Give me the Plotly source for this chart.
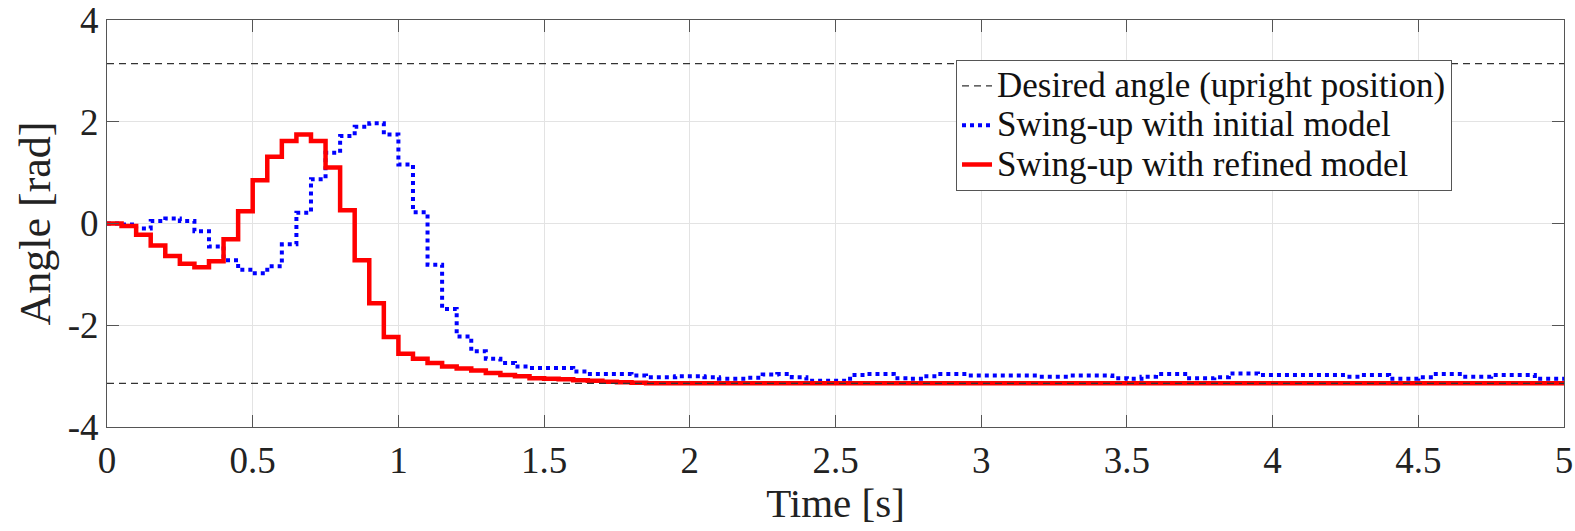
import numpy as np
import plotly.graph_objects as go

sample_time = 0.05  # s, zero-order hold

initial_model = [
    0.00, -0.02, -0.10, 0.05, 0.10, 0.05, -0.15, -0.45, -0.72, -0.91,
    -0.98, -0.84, -0.41, 0.21, 0.87, 1.39, 1.72, 1.90, 1.97, 1.75,
    1.16, 0.22, -0.81, -1.68, -2.22, -2.51, -2.66, -2.74, -2.81, -2.84,
    -2.84, -2.84, -2.91, -2.96, -2.96, -2.96, -2.99, -3.02, -3.02, -3.00,
    -3.00, -3.02, -3.05, -3.05, -3.03, -2.97, -2.96, -3.02, -3.09, -3.09,
    -3.09, -2.98, -2.96, -2.96, -3.04, -3.05, -3.00, -2.96, -2.96, -2.99,
    -2.99, -2.99, -2.99, -2.99, -3.01, -3.01, -2.99, -2.99, -2.99, -3.04,
    -3.05, -3.01, -2.96, -2.96, -3.04, -3.04, -3.02, -2.95, -2.95, -2.98,
    -2.98, -2.98, -2.98, -2.98, -2.98, -3.01, -2.98, -2.98, -3.05, -3.05,
    -3.02, -2.96, -2.96, -3.01, -3.01, -2.98, -2.98, -2.98, -3.05, -3.05,
]

refined_model = [
    0.00, -0.05, -0.22, -0.43, -0.64, -0.79, -0.86, -0.74, -0.31, 0.24,
    0.85, 1.31, 1.62, 1.75, 1.62, 1.10, 0.26, -0.72, -1.57, -2.23,
    -2.56, -2.66, -2.74, -2.81, -2.85, -2.89, -2.94, -2.98, -3.00, -3.04,
    -3.05, -3.06, -3.08, -3.09, -3.11, -3.12, -3.13,
] + [-3.14] * 63

desired_angle = [np.pi, -np.pi]
x_ticks = [0, 0.5, 1, 1.5, 2, 2.5, 3, 3.5, 4, 4.5, 5]
x_ticktext = ["0", "0.5", "1", "1.5", "2", "2.5", "3", "3.5", "4", "4.5", "5"]
y_ticks = [-4, -2, 0, 2, 4]
y_ticktext = ["-4", "-2", "0", "2", "4"]

series_names = [
    "Desired angle (upright position)",
    "Swing-up with initial model",
    "Swing-up with refined model",
]

n = len(initial_model)
t = [k * sample_time for k in range(n)] + [n * sample_time]
blue_y = initial_model + [initial_model[-1]]
red_y = refined_model + [refined_model[-1]]

FONT = "Liberation Serif"


def legend_label(s):
    return '<span style="font-size:35px">' + s + "</span>"


fig = go.Figure()
fig.add_trace(go.Scatter(
    x=t, y=blue_y, mode="lines", line_shape="hv",
    line=dict(color="#0000ff", width=4, dash="dot"),
    name=legend_label(series_names[1]), legendrank=2,
))
fig.add_trace(go.Scatter(
    x=t, y=red_y, mode="lines", line_shape="hv",
    line=dict(color="#ff0000", width=4.5),
    name=legend_label(series_names[2]), legendrank=3,
))
for i, a in enumerate(desired_angle):
    fig.add_trace(go.Scatter(
        x=[x_ticks[0], x_ticks[-1]], y=[a, a], mode="lines",
        line=dict(color="#333333", width=1.3, dash="7px,5px"),
        name=legend_label(series_names[0]), showlegend=(i == 0),
        legendrank=1,
    ))

axis_common = dict(
    showline=True, linecolor="#555555", linewidth=1.2, mirror="ticks",
    ticks="inside", ticklen=12, tickcolor="#555555", tickwidth=1.2,
    showgrid=True, gridcolor="#e3e3e3", gridwidth=1, zeroline=False,
    tickfont=dict(family=FONT, size=37, color="#222222"),
    automargin=False, ticklabeloverflow="allow",
)

fig.update_layout(
    width=1575, height=531,
    margin=dict(l=107, r=11, t=20, b=104),
    paper_bgcolor="white", plot_bgcolor="white",
    font=dict(family=FONT, color="#222222"),
    xaxis=dict(range=[0, 5], tickvals=x_ticks, ticktext=x_ticktext,
               title=dict(text="Time [s]", font=dict(family=FONT, size=41), standoff=2),
               **axis_common),
    yaxis=dict(range=[-4, 4], tickvals=y_ticks, ticktext=y_ticktext,
               title=dict(text="Angle [rad]", font=dict(family=FONT, size=44), standoff=3),
               **axis_common),
    legend=dict(
        x=0.923, y=0.902, xanchor="right", yanchor="top",
        bgcolor="white", bordercolor="#555555", borderwidth=1.2,
        font=dict(family=FONT, size=28, color="#111111"),
        tracegroupgap=0, itemwidth=30,
    ),
    showlegend=True,
)

fig.write_html(
    "out.html",
    config={"displayModeBar": False},
    post_script="document.body.style.margin='0px';document.body.style.overflow='hidden';",
)
